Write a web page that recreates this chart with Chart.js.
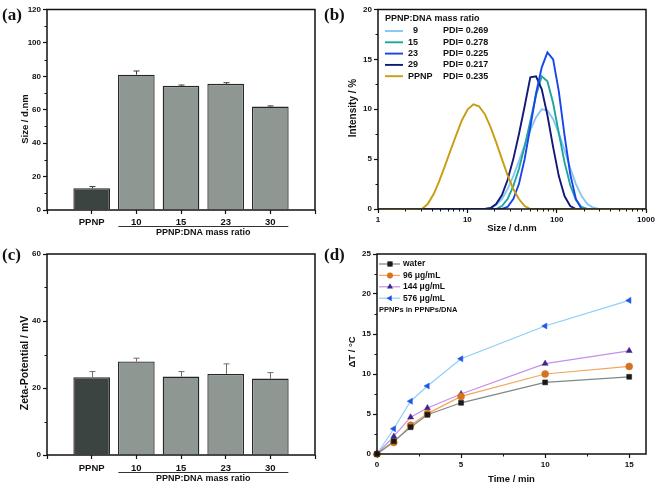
<!DOCTYPE html>
<html>
<head>
<meta charset="utf-8">
<script src="https://cdn.jsdelivr.net/npm/chart.js@4/dist/chart.umd.min.js"></script>
<style>
html, body { margin: 0; padding: 0; background: #fff; }
#wrap { position: relative; width: 663px; height: 494px; overflow: hidden; }
canvas { position: absolute; }
.tag { position: absolute; z-index: 2; font: bold 17px "Liberation Serif", "Times New Roman", serif; line-height: 17px; color: #111; }
</style>
</head>
<body>
<div id="wrap">
  <canvas id="ca" width="330" height="240" style="left:0;top:0"></canvas>
  <canvas id="cb" width="333" height="240" style="left:330px;top:0"></canvas>
  <canvas id="cc" width="330" height="254" style="left:0;top:240px"></canvas>
  <canvas id="cd" width="333" height="254" style="left:330px;top:240px"></canvas>
  <span class="tag" style="left:2px;top:6px">(a)</span>
  <span class="tag" style="left:324px;top:6px">(b)</span>
  <span class="tag" style="left:2px;top:246px">(c)</span>
  <span class="tag" style="left:324px;top:246px">(d)</span>
</div>
<script>
// ---- data ----
const barLabels = ["", "PPNP", "10", "15", "23", "30", ""];
const sizeMeans = [null, 13.0, 81.0, 74.3, 75.5, 61.9, null];
const sizeErrors = [null, 1.0, 2.2, 0.5, 0.7, 0.4, null];
const zetaMeans = [null, 23.2, 27.9, 23.4, 24.2, 22.8, null];
const zetaErrors = [null, 1.7, 1.0, 1.5, 3.0, 1.8, null];

const sizeTicks = [0, 20, 40, 60, 80, 100, 120];
const sizeMinor = [10, 30, 50, 70, 90, 110];
const zetaTicks = [0, 20, 40, 60];
const zetaMinor = [10, 30, 50];

const dlsSizes = [1, 3.1, 3.6, 4.2, 4.8, 5.6, 6.5, 7.5, 8.7, 10.1, 11.7, 13.5, 15.7, 18.2, 21.0, 24.4, 28.2,
  32.7, 37.8, 43.8, 50.7, 58.8, 68.1, 78.8, 91.3, 105.7, 122.4, 141.8, 164.2, 190.1, 220.2, 255, 295.3, 342, 1000];
const dlsR9 = [0, 0, 0, 0, 0, 0, 0, 0, 0, 0, 0, 0, 0, 0.1, 0.4, 1.0, 2.0,
  3.3, 4.8, 6.4, 7.9, 9.2, 10.0, 9.9, 9.0, 7.6, 5.9, 4.1, 2.5, 1.3, 0.5, 0.15, 0, 0, 0];
const dlsR15 = [0, 0, 0, 0, 0, 0, 0, 0, 0, 0, 0, 0, 0, 0, 0, 0.3, 1.0,
  2.3, 4.0, 6.3, 8.8, 11.4, 13.3, 12.8, 10.6, 7.6, 4.7, 2.4, 0.9, 0.2, 0, 0, 0, 0, 0];
const dlsR23 = [0, 0, 0, 0, 0, 0, 0, 0, 0, 0, 0, 0, 0, 0, 0, 0, 0.2,
  1.0, 2.5, 5.0, 8.2, 11.6, 14.2, 15.7, 15.0, 11.8, 7.4, 3.5, 1.0, 0, 0, 0, 0, 0, 0];
const dlsR29 = [0, 0, 0, 0, 0, 0, 0, 0, 0, 0, 0, 0, 0, 0.1, 0.5, 1.4, 2.9,
  5.0, 7.5, 10.3, 13.2, 13.3, 12.0, 9.4, 6.2, 3.3, 1.3, 0.3, 0, 0, 0, 0, 0, 0, 0];
const dlsPPNP = [0, 0, 0.5, 1.5, 2.7, 4.3, 5.9, 7.4, 8.9, 10.0, 10.5, 10.3, 9.5, 8.2, 6.7, 5.0, 3.4,
  2.0, 1.0, 0.3, 0, 0, 0, 0, 0, 0, 0, 0, 0, 0, 0, 0, 0, 0, 0];
const ratioLabels = ["9", "15", "23", "29", "PPNP"];
const pdiValues = ["0.269", "0.278", "0.225", "0.217", "0.235"];
const dlsTicks = [1, 10, 100, 1000];
const dlsMinor = [2, 3, 4, 5, 6, 7, 8, 9, 20, 30, 40, 50, 60, 70, 80, 90, 200, 300, 400, 500, 600, 700, 800, 900];
const intensityTicks = [0, 5, 10, 15, 20];
const intensityMinor = [2.5, 7.5, 12.5, 17.5];

const times = [0, 1, 2, 3, 5, 10, 15];
const tWater = [0, 1.6, 3.35, 4.9, 6.4, 8.95, 9.65];
const t96 = [0, 1.45, 3.6, 5.05, 7.2, 10.0, 10.95];
const t144 = [0, 2.2, 4.6, 5.75, 7.5, 11.3, 12.9];
const t576 = [0, 3.15, 6.6, 8.5, 11.9, 16.0, 19.2];
const concLabels = ["water", "96 μg/mL", "144 μg/mL", "576 μg/mL"];
const timeTicks = [0, 5, 10, 15];
const timeMinor = [2.5, 7.5, 12.5];
const deltaTicks = [0, 5, 10, 15, 20, 25];
const deltaMinor = [2.5, 7.5, 12.5, 17.5, 22.5];

// ---- style ----
const SANS = '"Liberation Sans", Arial, sans-serif';
const INK = "#111";
Chart.defaults.font.family = SANS;
Chart.defaults.font.weight = "bold";
Chart.defaults.color = INK;
Chart.defaults.animation = false;

const DARK_BAR = "#3b4441";
const GREY_BAR = "#8e9792";
const dlsColors = ["#86c6f6", "#1fa59c", "#1844ee", "#121a78", "#c79e12"];
const lineColors = ["#7b8b83", "#f4a55c", "#c58fea", "#8ccff8"];
const markColors = ["#1a1a1a", "#d8721f", "#3f2489", "#1f56ea"];
const markStyles = ["rect", "circle", "triangle", "triangle"];
const markRot = [0, 0, 0, -90];

function fixedTicks(values) {
  return s => { s.ticks = values.map(v => ({ value: v })); };
}

function axisGrid() {
  return { display: true, drawOnChartArea: false, drawTicks: true, tickLength: 4, tickColor: INK, tickWidth: 1.2, offset: false };
}

function yAxis(max, values, width) {
  return {
    type: "linear", min: 0, max,
    afterBuildTicks: fixedTicks(values),
    grid: axisGrid(),
    border: { display: false },
    ticks: { font: { size: 8, weight: "bold" }, padding: 2 },
    afterFit(s) { s.width = width; }
  };
}

function rotText(ctx, text, x, y) {
  ctx.save();
  ctx.translate(x, y);
  ctx.rotate(-Math.PI / 2);
  ctx.textAlign = "center";
  ctx.textBaseline = "middle";
  ctx.fillText(text, 0, 0);
  ctx.restore();
}

// frame, minor ticks and titles
function framePlugin(opt) {
  return {
    id: "frame",
    afterDraw(chart) {
      const { ctx, chartArea: a, scales } = chart;
      ctx.save();
      ctx.strokeStyle = INK;
      ctx.lineWidth = 1.5;
      ctx.strokeRect(a.left, a.top, a.right - a.left, a.bottom - a.top);
      ctx.lineWidth = 1;
      (opt.yMinor || []).forEach(v => {
        const p = Math.round(scales.y.getPixelForValue(v)) + 0.5;
        ctx.beginPath(); ctx.moveTo(a.left - 2.5, p); ctx.lineTo(a.left, p); ctx.stroke();
      });
      (opt.xMinor || []).forEach(v => {
        const p = Math.round(scales.x.getPixelForValue(v)) + 0.5;
        ctx.beginPath(); ctx.moveTo(p, a.bottom); ctx.lineTo(p, a.bottom + 2.5); ctx.stroke();
      });
      ctx.fillStyle = INK;
      ctx.font = "bold " + (opt.yTitleSize || 9.5) + "px " + SANS;
      rotText(ctx, opt.yTitle, opt.yTitleX, opt.yTitleY);
      ctx.font = "bold 9.5px " + SANS;
      if (opt.xTitle) {
        ctx.textAlign = "center";
        ctx.textBaseline = "middle";
        ctx.fillText(opt.xTitle, (a.left + a.right) / 2, opt.xTitleY);
      }
      if (opt.ratioTitleY) {
        const x = scales.x;
        const x0 = x.getPixelForValue(2) - 18, x1 = x.getPixelForValue(5) + 18;
        ctx.strokeStyle = "#333";
        ctx.beginPath();
        ctx.moveTo(x0, opt.ratioTitleY - 6.5); ctx.lineTo(x1, opt.ratioTitleY - 6.5);
        ctx.stroke();
        ctx.font = "bold 9px " + SANS;
        ctx.textAlign = "center";
        ctx.textBaseline = "middle";
        ctx.fillText("PPNP:DNA mass ratio", (x0 + x1) / 2, opt.ratioTitleY);
      }
      if (opt.extra) opt.extra(chart, ctx);
      ctx.restore();
    }
  };
}

function errorPlugin(errors, color) {
  return {
    id: "errors",
    afterDatasetsDraw(chart) {
      const { ctx, scales } = chart;
      const meta = chart.getDatasetMeta(0);
      const vals = chart.data.datasets[0].data;
      ctx.save();
      ctx.strokeStyle = color;
      ctx.lineWidth = 1;
      meta.data.forEach((bar, i) => {
        if (vals[i] == null || errors[i] == null) return;
        const y0 = scales.y.getPixelForValue(vals[i]);
        const y1 = scales.y.getPixelForValue(vals[i] + errors[i]);
        const x = Math.round(bar.x) + 0.5;
        ctx.beginPath();
        ctx.moveTo(x, y0); ctx.lineTo(x, y1);
        ctx.moveTo(x - 3, y1); ctx.lineTo(x + 3, y1);
        ctx.stroke();
      });
      ctx.restore();
    }
  };
}

function barChart(id, means, errors, errColor, max, ticks, minor, pad, xHeight, yTitle, yTitleY, yTitleSize, ratioY, labelPad) {
  return new Chart(document.getElementById(id), {
    type: "bar",
    data: {
      labels: barLabels,
      datasets: [{
        data: means,
        backgroundColor: barLabels.map((l, i) => i === 1 ? DARK_BAR : GREY_BAR),
        borderColor: "#262626",
        borderWidth: 1.3,
        barPercentage: 0.82,
        categoryPercentage: 1
      }]
    },
    options: {
      responsive: false,
      layout: { padding: { top: pad, right: 15, left: 0, bottom: 0 } },
      plugins: { legend: { display: false }, tooltip: { enabled: false } },
      scales: {
        x: {
          type: "category", offset: false,
          grid: axisGrid(),
          border: { display: false },
          ticks: { font: { size: 9.5, weight: "bold" }, padding: labelPad, maxRotation: 0, autoSkip: false },
          afterFit(s) { s.height = xHeight; }
        },
        y: yAxis(max, ticks, 47)
      }
    },
    plugins: [
      errorPlugin(errors, errColor),
      framePlugin({ yMinor: minor, yTitle, yTitleX: 25, yTitleY, yTitleSize, ratioTitleY: ratioY })
    ]
  });
}

barChart("ca", sizeMeans, sizeErrors, "#3a3a3a", 120, sizeTicks, sizeMinor, 9.5, 30, "Size / d.nm", 119, 9.5, 233, 3);
barChart("cc", zetaMeans, zetaErrors, "#6d6d6d", 60, zetaTicks, zetaMinor, 14, 39, "Zeta-Potential / mV", 123, 10.5, 239, 4);

// ---- (b) DLS distributions ----
const dlsSeries = [dlsR9, dlsR15, dlsR23, dlsR29, dlsPPNP];
const dlsOrder = [4, 3, 1, 2, 0];

function drawDlsLegend(chart, ctx) {
  ctx.font = "bold 9px " + SANS;
  ctx.textAlign = "left";
  ctx.textBaseline = "middle";
  ctx.fillStyle = INK;
  ctx.fillText("PPNP:DNA mass ratio", 55, 19);
  ratioLabels.forEach((lab, i) => {
    const y = 31 + i * 11.3;
    ctx.strokeStyle = dlsColors[i];
    ctx.lineWidth = 1.9;
    ctx.beginPath(); ctx.moveTo(55, y); ctx.lineTo(73, y); ctx.stroke();
    ctx.fillText(lab, lab.length === 1 ? 83 : 78, y);
    ctx.fillText("PDI= " + pdiValues[i], 113, y);
  });
}

new Chart(document.getElementById("cb"), {
  type: "line",
  data: {
    datasets: dlsSeries.map((vals, i) => ({
      label: ratioLabels[i],
      data: dlsSizes.map((s, k) => ({ x: s, y: vals[k] })),
      borderColor: dlsColors[i],
      borderWidth: 1.9,
      pointRadius: 0,
      tension: 0,
      order: dlsOrder[i]
    }))
  },
  options: {
    responsive: false,
    layout: { padding: { top: 9.5, right: 17, left: 0, bottom: 0 } },
    plugins: { legend: { display: false }, tooltip: { enabled: false } },
    scales: {
      x: {
        type: "logarithmic", min: 1, max: 1000,
        afterBuildTicks: fixedTicks(dlsTicks),
        grid: axisGrid(),
        border: { display: false },
        ticks: { font: { size: 8, weight: "bold" }, padding: 2, maxRotation: 0, callback: v => String(v) },
        afterFit(s) { s.height = 31; }
      },
      y: yAxis(20, intensityTicks, 48)
    }
  },
  plugins: [framePlugin({
    xMinor: dlsMinor, yMinor: intensityMinor,
    yTitle: "Intensity / %", yTitleX: 23, yTitleY: 108, yTitleSize: 10,
    xTitle: "Size / d.nm", xTitleY: 228,
    extra: drawDlsLegend
  })]
});

// ---- (d) heating curves ----
const heatSeries = [tWater, t96, t144, t576];

function marker(ctx, style, rot, x, y, r) {
  ctx.beginPath();
  if (style === "rect") {
    ctx.rect(x - r * 0.75, y - r * 0.75, r * 1.5, r * 1.5);
  } else if (style === "circle") {
    ctx.arc(x, y, r * 0.85, 0, Math.PI * 2);
  } else {
    const a0 = (rot - 90) * Math.PI / 180;
    for (let k = 0; k < 3; k++) {
      const a = a0 + k * 2 * Math.PI / 3;
      const px = x + Math.cos(a) * r, py = y + Math.sin(a) * r;
      if (k === 0) ctx.moveTo(px, py); else ctx.lineTo(px, py);
    }
    ctx.closePath();
  }
  ctx.fill();
}

function drawHeatLegend(chart, ctx) {
  ctx.textAlign = "left";
  ctx.textBaseline = "middle";
  concLabels.forEach((lab, i) => {
    const y = 24 + i * 11.4;
    ctx.strokeStyle = lineColors[i];
    ctx.lineWidth = 1.2;
    ctx.beginPath(); ctx.moveTo(49, y); ctx.lineTo(70, y); ctx.stroke();
    ctx.fillStyle = markColors[i];
    marker(ctx, markStyles[i], markRot[i], 60, y, 3.5);
    ctx.fillStyle = INK;
    ctx.font = "bold 8.5px " + SANS;
    ctx.fillText(lab, 73, y);
  });
  ctx.font = "bold 7.5px " + SANS;
  ctx.fillText("PPNPs in PPNPs/DNA", 49, 70);
}

new Chart(document.getElementById("cd"), {
  type: "line",
  data: {
    datasets: heatSeries.map((vals, i) => ({
      label: concLabels[i],
      data: times.map((t, k) => ({ x: t, y: vals[k] })),
      borderColor: lineColors[i],
      borderWidth: 1.2,
      pointStyle: markStyles[i],
      rotation: markRot[i],
      pointRadius: 3.5,
      pointBackgroundColor: markColors[i],
      pointBorderColor: markColors[i],
      pointBorderWidth: 0.5,
      tension: 0,
      clip: false
    }))
  },
  options: {
    responsive: false,
    layout: { padding: { top: 14, right: 17, left: 0, bottom: 0 } },
    plugins: { legend: { display: false }, tooltip: { enabled: false } },
    scales: {
      x: {
        type: "linear", min: 0, max: 16,
        afterBuildTicks: fixedTicks(timeTicks),
        grid: axisGrid(),
        border: { display: false },
        ticks: { font: { size: 8, weight: "bold" }, padding: 2, maxRotation: 0 },
        afterFit(s) { s.height = 40; }
      },
      y: yAxis(25, deltaTicks, 47)
    }
  },
  plugins: [framePlugin({
    xMinor: timeMinor, yMinor: deltaMinor,
    yTitle: "ΔT / °C", yTitleX: 22, yTitleY: 112,
    xTitle: "Time / min", xTitleY: 239,
    extra: drawHeatLegend
  })]
});
</script>
</body>
</html>
